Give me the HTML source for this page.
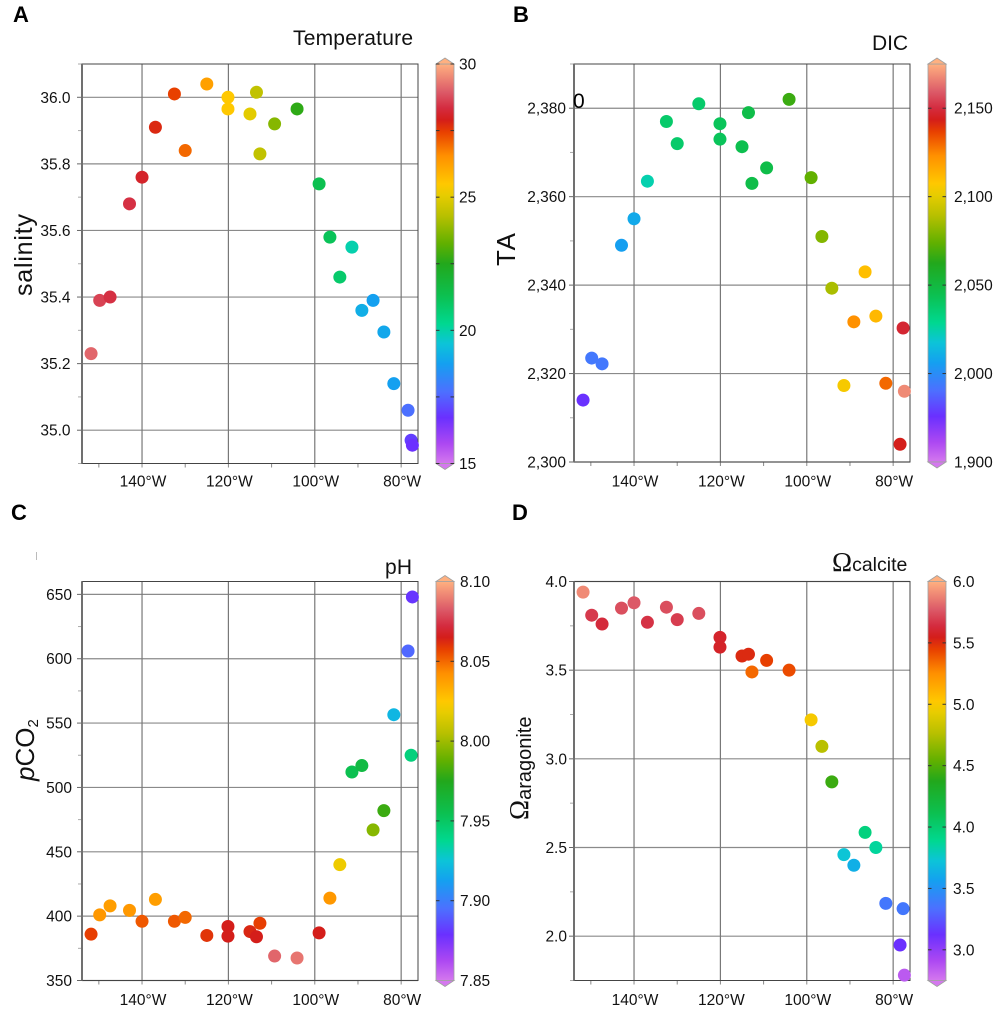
<!DOCTYPE html>
<html lang="en">
<head>
<meta charset="utf-8">
<title>Ocean chemistry scatter panels</title>
<style>
  html, body { margin: 0; padding: 0; background: #fff; }
  svg { display: block; font-family: "Liberation Sans", sans-serif; fill: #111; }
  .panel-letter { font-size: 22px; font-weight: bold; fill: #000; }
  .title { font-size: 21px; }
</style>
</head>
<body>
<svg id="figure" xmlns="http://www.w3.org/2000/svg" width="1000" height="1012" viewBox="0 0 1000 1012">
  <defs id="defs"></defs>
  <g id="panels"></g>

  <text class="panel-letter" x="13" y="22">A</text>
  <text class="panel-letter" x="513" y="22">B</text>
  <text class="panel-letter" x="11" y="520">C</text>
  <text class="panel-letter" x="512" y="520">D</text>

  <text class="title" x="293" y="45" textLength="120" lengthAdjust="spacing">Temperature</text>
  <text class="title" x="872" y="50" textLength="36" lengthAdjust="spacing">DIC</text>
  <text class="title" x="385" y="574" textLength="27" lengthAdjust="spacing">pH</text>
  <text x="832" y="571"><tspan font-size="27" font-family="'Liberation Serif', serif">Ω</tspan><tspan font-size="19.5">calcite</tspan></text>

  <text transform="translate(32,296) rotate(-90)" font-size="25" textLength="82" lengthAdjust="spacing">salinity</text>
  <text transform="translate(515,266) rotate(-90)" font-size="26" textLength="33" lengthAdjust="spacing">TA</text>
  <text transform="translate(34,781) rotate(-90)" font-size="26"><tspan font-style="italic">p</tspan>CO<tspan font-size="15" dy="4">2</tspan></text>
  <text transform="translate(528,820) rotate(-90)"><tspan font-size="27" font-family="'Liberation Serif', serif">Ω</tspan><tspan font-size="20" dy="3">aragonite</tspan></text>

  <text x="573" y="108" font-size="21" fill="#000">0</text>
  <line x1="36.5" y1="552" x2="36.5" y2="560" stroke="#bbb" stroke-width="1"></line>
</svg>

<script>
// Station longitudes (degrees east) and measurements, same station order in every array.
const longitude = [-151.8,-149.8,-147.4,-142.9,-140,-136.9,-132.5,-130,-125,-120.1,-120.1,-115,-113.5,-112.7,-109.3,-104.1,-99,-96.5,-94.2,-91.4,-89.1,-86.5,-84,-81.7,-78.4,-77.7,-77.4];
const salinity = [35.23,35.39,35.40,35.68,35.76,35.91,36.01,35.84,36.04,36.00,35.965,35.95,36.015,35.83,35.92,35.965,35.74,35.58,35.46,35.55,35.36,35.39,35.295,35.14,35.06,34.97,34.955];
const temperature = [29.1,28.65,28.4,28.4,28.1,27.75,27.45,27,26.25,25.5,25.5,25,24.45,24.45,23.7,22.65,21.3,21.15,20.85,19.95,19.05,18.75,18.9,18.75,17.7,16.95,16.7];
const ta = [2314,2323.5,2322.2,2349,2355,2363.5,2377,2372,2381,2376.5,2373,2371.3,2379,2363,2366.5,2382,2364.3,2351,2339.3,2317.3,2331.7,2343,2333,2317.8,2304,2330.3,2316];
const dic = [1976,1993,1993,2006,2009,2024,2038,2038,2038,2042,2042,2045,2047,2047,2047,2067,2074,2080,2087,2105,2123,2110,2112,2130,2143.5,2148,2168];
const pco2 = [386,401,408,404.5,396,413,396,399,385,392,384.5,388,384,394.5,369,367.5,387,414,440,512,517,467,482,556.5,606,525,648];
const ph = [8.058,8.04,8.038,8.04,8.053,8.038,8.053,8.05,8.06,8.065,8.065,8.063,8.065,8.058,8.085,8.088,8.065,8.04,8.02,7.955,7.96,7.995,7.98,7.92,7.893,7.943,7.88];
const omegaAragonite = [3.94,3.81,3.76,3.85,3.88,3.77,3.855,3.785,3.82,3.685,3.63,3.58,3.59,3.49,3.555,3.5,3.22,3.07,2.87,2.46,2.40,2.585,2.5,2.185,1.95,2.155,1.78];
const omegaCalcite = [5.90,5.68,5.63,5.74,5.77,5.66,5.74,5.69,5.74,5.59,5.58,5.51,5.51,5.35,5.45,5.42,4.99,4.77,4.44,3.73,3.63,3.95,3.86,3.37,3.12,3.37,2.85];

// Axis ticks and labels.
const lonTicks = [-150,-140,-130,-120,-110,-100,-90,-80];
const lonLabels = {"-140":"140°W","-120":"120°W","-100":"100°W","-80":"80°W"};
const salinityTicks = [35.0,35.2,35.4,35.6,35.8,36.0];
const salinityMinor = [34.9,35.1,35.3,35.5,35.7,35.9,36.1];
const taTicks = [2300,2320,2340,2360,2380];
const taMinor = [2310,2330,2350,2370,2390];
const pco2Ticks = [350,400,450,500,550,600,650];
const pco2Minor = [375,425,475,525,575,625];
const omegaTicks = [2.0,2.5,3.0,3.5,4.0];
const omegaMinor = [1.75,2.25,2.75,3.25,3.75];

// Colorbar ticks and their printed labels.
const temperatureBarTicks = [15,17.5,20,22.5,25,27.5,30];
const temperatureBarLabels = {"15":"15","20":"20","25":"25","30":"30"};
const dicBarTicks = [2000,2050,2100,2150];
const dicBarLabels = {"1950":"1,900","2000":"2,000","2050":"2,050","2100":"2,100","2150":"2,150"};
const phBarTicks = [7.90,7.95,8.00,8.05];
const phBarLabels = {"7.85":"7.85","7.9":"7.90","7.95":"7.95","8":"8.00","8.05":"8.05","8.1":"8.10"};
const omegaBarTicks = [3.0,3.5,4.0,4.5,5.0,5.5];
const omegaBarLabels = {"3":"3.0","3.5":"3.5","4":"4.0","4.5":"4.5","5":"5.0","5.5":"5.5","6":"6.0"};

// Shared colormap: fraction along the bar, colour.
const colormapFractions = [0,0.05,0.115,0.18,0.25,0.3,0.35,0.42,0.5,0.55,0.62,0.67,0.7,0.77,0.83,0.86,0.89,0.93,1];
const colormapColors = ["#d478ee","#ac48f2","#6a30ff","#4c70ff","#14a0f0","#0cc4d8","#00d890","#0cc050","#22a81c","#60b000","#b8c000","#e6cc00","#ffc800","#ff9000","#e84000","#d41e1a","#d42c40","#dc5a68","#ffb080"];

const svgNS = "http://www.w3.org/2000/svg";
const root = document.getElementById("panels");
const defs = document.getElementById("defs");

function make(tag, parent, attrs, text) {
  const el = document.createElementNS(svgNS, tag);
  for (const key in attrs) el.setAttribute(key, attrs[key]);
  if (text !== undefined) el.textContent = text;
  parent.appendChild(el);
  return el;
}
function hexToRgb(h) {
  return [parseInt(h.slice(1,3),16), parseInt(h.slice(3,5),16), parseInt(h.slice(5,7),16)];
}
function colormap(t) {
  const c = Math.max(0, Math.min(1, t));
  let i = 0;
  while (i < colormapFractions.length - 2 && c > colormapFractions[i + 1]) i++;
  const f = (c - colormapFractions[i]) / (colormapFractions[i + 1] - colormapFractions[i]);
  const a = hexToRgb(colormapColors[i]);
  const b = hexToRgb(colormapColors[i + 1]);
  const mix = a.map((v, k) => Math.round(v + (b[k] - v) * f));
  return "rgb(" + mix.join(",") + ")";
}
function linearScale(d0, d1, r0, r1) {
  return v => r0 + (v - d0) * (r1 - r0) / (d1 - d0);
}

// Single definition of the colorbar gradient.
const gradient = make("linearGradient", defs, {id: "cmap", x1: 0, y1: 1, x2: 0, y2: 0});
colormapFractions.forEach((f, i) => {
  make("stop", gradient, {offset: f, "stop-color": colormapColors[i]});
});

const panels = [
  {key:"a", x0:82, x1:418, y0:64, y1:463.5, lonDomain:[-153.9,-76.1], yDomain:[34.9,36.1],
   ys:salinity, cs:temperature, yTicks:salinityTicks, yMinor:salinityMinor, yFmt:v=>v.toFixed(1), yLabelX:70.5, xLabelY:486.5,
   bar:{x:436, domain:[15,30], ticks:temperatureBarTicks, labels:temperatureBarLabels, labelX:459}},
  {key:"b", x0:574, x1:910, y0:64, y1:462, lonDomain:[-153.9,-76.1], yDomain:[2300,2390],
   ys:ta, cs:dic, yTicks:taTicks, yMinor:taMinor, yFmt:v=>v.toLocaleString("en-US"), yLabelX:566, xLabelY:486.5,
   bar:{x:928, domain:[1950,2175], ticks:dicBarTicks, labels:dicBarLabels, labelX:954}},
  {key:"c", x0:82, x1:418, y0:581.5, y1:980.5, lonDomain:[-153.9,-76.1], yDomain:[350,660],
   ys:pco2, cs:ph, yTicks:pco2Ticks, yMinor:pco2Minor, yFmt:v=>String(v), yLabelX:72, xLabelY:1005,
   bar:{x:436, domain:[7.85,8.10], ticks:phBarTicks, labels:phBarLabels, labelX:460}},
  {key:"d", x0:574, x1:910, y0:581.5, y1:980.5, lonDomain:[-153.9,-76.1], yDomain:[1.75,4.0],
   ys:omegaAragonite, cs:omegaCalcite, yTicks:omegaTicks, yMinor:omegaMinor, yFmt:v=>v.toFixed(1), yLabelX:567, xLabelY:1005,
   bar:{x:928, domain:[2.75,6.0], ticks:omegaBarTicks, labels:omegaBarLabels, labelX:953}}
];

panels.forEach(p => {
  const group = make("g", root, {});
  
  

  const xScale = linearScale(p.lonDomain[0], p.lonDomain[1], p.x0, p.x1);
  const yScale = linearScale(p.yDomain[0], p.yDomain[1], p.y1, p.y0);
  const barWidth = 18;
  const colorT = v => (v - p.bar.domain[0]) / (p.bar.domain[1] - p.bar.domain[0]);
  const barScale = linearScale(p.bar.domain[0], p.bar.domain[1], p.y1, p.y0);

  // Horizontal gridlines, ticks and labels.
  p.yTicks.forEach(v => {
    const y = yScale(v);
    const grid = make("line", group, {x1:p.x0, x2:p.x1, y1:y, y2:y, stroke:"#8a8a8a", "stroke-width":1.2});
    
    
    const tick = make("line", group, {x1:p.x0 - 5, x2:p.x0, y1:y, y2:y, stroke:"#666", "stroke-width":1});
    
    
    const label = make("text", group, {x:p.yLabelX, y:y + 5.5, "text-anchor":"end", "font-size":15.5}, p.yFmt(v));
    
    
  });
  p.yMinor.forEach(v => {
    const y = yScale(v);
    const tick = make("line", group, {x1:p.x0 - 4, x2:p.x0, y1:y, y2:y, stroke:"#aaa", "stroke-width":1});
    
    
  });

  // Longitude gridlines, ticks and labels.
  lonTicks.forEach(v => {
    const x = xScale(v);
    const text = lonLabels[String(v)];
    const tick = make("line", group, {x1:x, x2:x, y1:p.y1, y2:p.y1 + 4, stroke:"#888", "stroke-width":1});
    
    
    if (text) {
      const grid = make("line", group, {x1:x, x2:x, y1:p.y0, y2:p.y1, stroke:"#787878", "stroke-width":1.2});
      
      
      const label = make("text", group, {x:x + 1, y:p.xLabelY, "text-anchor":"middle", "font-size":15.5}, text);
      
      
    }
  });

  // Frame.
  const frame = make("rect", group, {x:p.x0, y:p.y0, width:p.x1 - p.x0, height:p.y1 - p.y0, fill:"none", stroke:"#444", "stroke-width":1});
  
  
  const leftAxis = make("line", group, {x1:p.x0, x2:p.x0, y1:p.y0, y2:p.y1, stroke:"#707070", "stroke-width":2});
  
  

  // Stations.
  longitude.forEach((lon, i) => {
    const dot = make("circle", group, {cx:xScale(lon), cy:yScale(p.ys[i]), r:6.5, fill:colormap(colorT(p.cs[i]))});
    
    
  });

  // Colorbar.
  const bx = p.bar.x;
  const bar = make("rect", group, {x:bx, y:p.y0, width:barWidth, height:p.y1 - p.y0, fill:"url(#cmap)", stroke:"#a0a0a0", "stroke-width":0.8});
  
  
  const capTop = make("polygon", group, {points:[bx,p.y0, bx + barWidth/2,p.y0 - 6, bx + barWidth,p.y0].join(" "), fill:colormap(1), stroke:"#a0a0a0", "stroke-width":0.8});
  
  
  const capBottom = make("polygon", group, {points:[bx,p.y1, bx + barWidth/2,p.y1 + 6, bx + barWidth,p.y1].join(" "), fill:colormap(0), stroke:"#a0a0a0", "stroke-width":0.8});
  
  
  p.bar.ticks.forEach(v => {
    const y = barScale(v);
    const left = make("line", group, {x1:bx, x2:bx + 3.5, y1:y, y2:y, stroke:"#333", "stroke-width":1});
    
    
    const right = make("line", group, {x1:bx + barWidth - 3.5, x2:bx + barWidth, y1:y, y2:y, stroke:"#333", "stroke-width":1});
    
    
  });
  Object.keys(p.bar.labels).forEach(k => {
    const label = make("text", group, {x:p.bar.labelX, y:barScale(Number(k)) + 5.5, "font-size":15.5}, p.bar.labels[k]);
    
    
  });
});
</script>
</body>
</html>
